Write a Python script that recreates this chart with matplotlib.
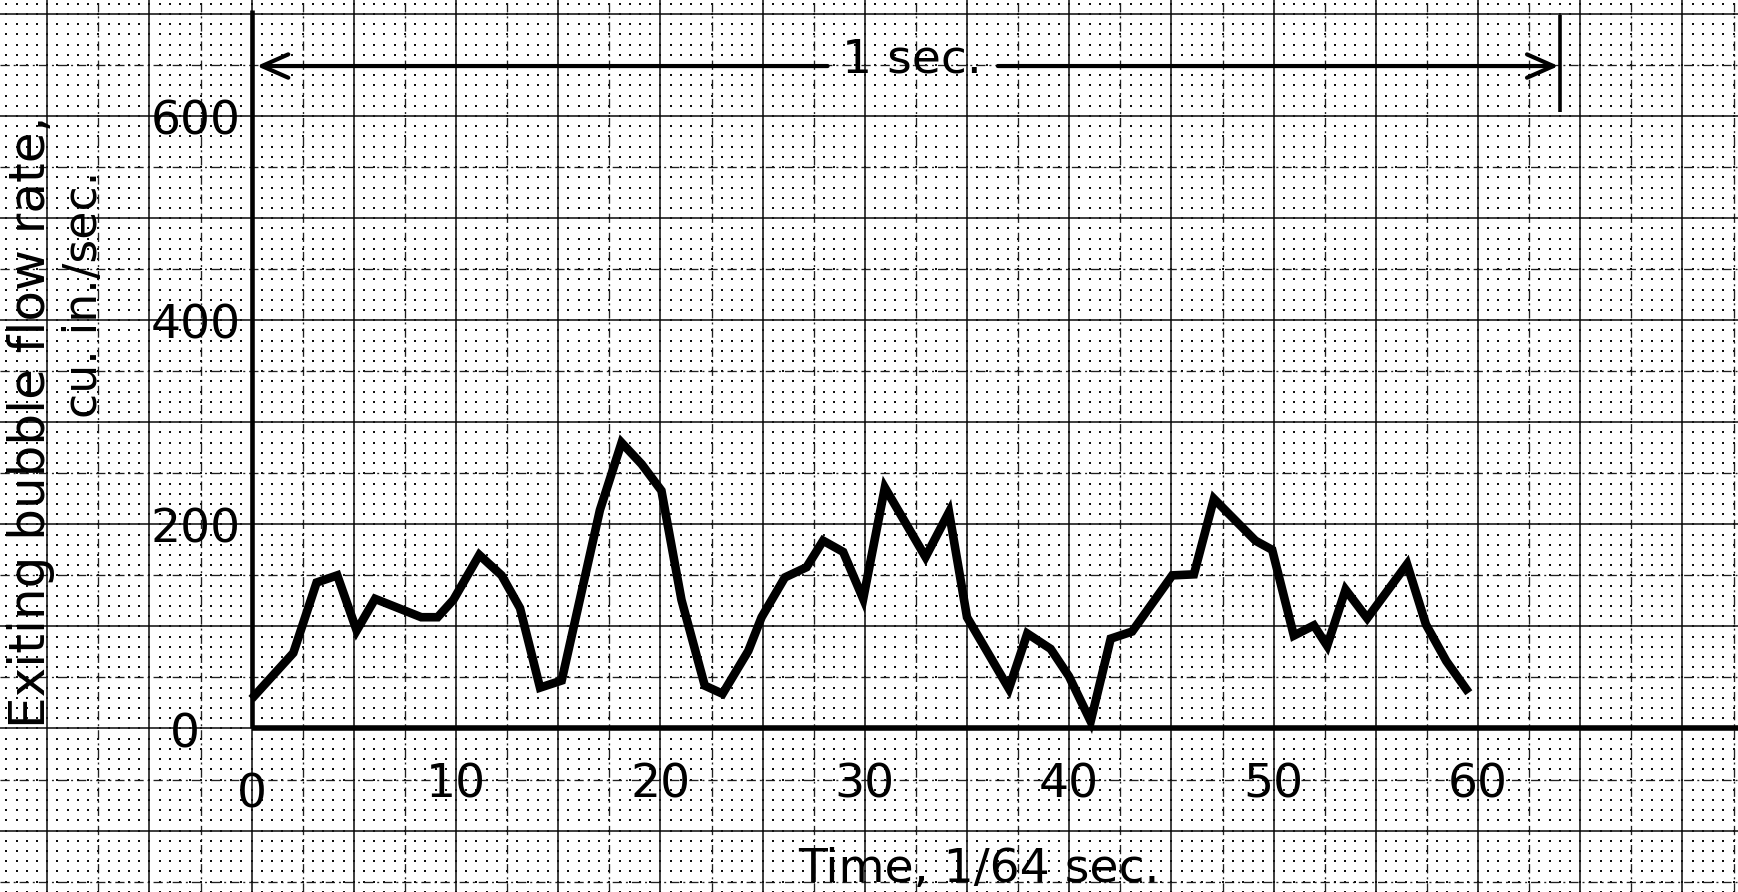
import numpy as np
import matplotlib
matplotlib.use("Agg")
import matplotlib.pyplot as plt

# ---------------- data ----------------
time_64ths = [0, 2.04, 3.18, 4.19, 5.14, 6.04, 8.3, 9.1, 9.87, 11.14, 12.23, 13.13,
              14.11, 15.17, 17.04, 18.1, 19.08, 20.05, 21.03, 22.17, 23.04, 24.3,
              24.95, 26.09, 27.15, 27.96, 28.94, 29.92, 30.98, 32.97, 34.12, 35.0,
              37.05, 37.95, 39.09, 39.99, 41.05, 42.03, 43.08, 45.04, 46.1, 47.08,
              49.11, 49.93, 50.99, 51.97, 52.62, 53.52, 54.58, 56.53, 57.45, 58.45,
              59.55]
flow_rate = [29, 74, 143, 150, 96, 127, 109, 109, 126, 170, 150, 118,
             40, 47, 214, 280, 259, 233, 126, 42, 34, 76,
             109, 148, 158, 184, 173, 127, 236, 168, 212, 109,
             39, 93, 78, 51, 7, 88, 95, 150, 151, 225,
             184, 175, 91, 101, 81, 136, 108, 161, 102, 66,
             35]

x_ticks = [0, 10, 20, 30, 40, 50, 60]
y_ticks = [200, 400, 600]
y_zero_label = "0"
x_label = "Time, 1/64 sec."
y_label_1 = "Exiting bubble flow rate,"
y_label_2 = "cu. in./sec."
span_label = "1 sec."
span_end = 64

# ---------------- figure: whole sheet of graph paper ----------------
W, H, DPI = 1738, 892, 100
fig = plt.figure(figsize=(W / DPI, H / DPI), dpi=DPI, facecolor="white")
ax = fig.add_axes([0, 0, 1, 1])
ax.set_xlim(-12.31, 72.72)
ax.set_ylim(-160.2, 713.7)
ax.axis("off")

# paper grid
for gx in np.arange(-12.5, 75, 2.5):
    if abs(gx / 5 - round(gx / 5)) < 1e-6:
        ax.axvline(gx, color="#111111", lw=1.15, zorder=1)
    else:
        ax.axvline(gx, color="#222222", lw=0.95, ls=(0, (7, 3, 1.5, 3)), zorder=1)
for gy in np.arange(-150, 750, 50):
    if gy % 100 == 0:
        ax.axhline(gy, color="#111111", lw=1.15, zorder=1)
    else:
        ax.axhline(gy, color="#222222", lw=0.95, ls=(0, (7, 3, 1.5, 3)), zorder=1)
dx, dy = np.meshgrid(np.arange(-12.5, 73, 0.5), np.arange(-160, 720, 10))
ax.scatter(dx.ravel(), dy.ravel(), s=3.0, marker="s", color="#111111",
           linewidths=0, zorder=1)

# axes lines
ax.plot([0, 0], [0, 704], color="black", lw=3.3, solid_capstyle="butt", zorder=3)
ax.plot([0, 80], [0, 0], color="black", lw=4.0, solid_capstyle="butt", zorder=3)

# data curve
ax.plot(time_64ths, flow_rate, color="black", lw=6.2,
        solid_joinstyle="miter", solid_capstyle="butt", zorder=4)

# tick labels
FS = 34
for v in y_ticks:
    ax.text(-0.55, v - 18, str(v), ha="right", va="baseline", fontsize=FS, zorder=5)
ax.text(-3.27, -19, y_zero_label, ha="center", va="baseline", fontsize=FS, zorder=5)
for v in x_ticks:
    ax.text(v, -77 if v == 0 else -68, str(v), ha="center", va="baseline",
            fontsize=FS, zorder=5)

# axis titles
ax.text(35.6, -150, x_label, ha="center", va="baseline", fontsize=FS, zorder=5)
ax.text(-10.11, 0.5, y_label_1, rotation=90, rotation_mode="anchor",
        ha="left", va="baseline", fontsize=36, zorder=5)
ax.text(-7.55, 304, y_label_2, rotation=90, rotation_mode="anchor",
        ha="left", va="baseline", fontsize=33, zorder=5)

# "1 sec." span arrow
arrow_y = 649
akw = dict(arrowstyle="->,head_length=0.95,head_width=0.42", color="black",
           lw=3.0, mutation_scale=20, shrinkA=0, shrinkB=0)
ax.annotate("", xy=(0.25, arrow_y), xytext=(28.18, arrow_y), arrowprops=akw, zorder=5)
ax.annotate("", xy=(span_end - 0.06, arrow_y), xytext=(36.51, arrow_y),
            arrowprops=akw, zorder=5)
ax.plot([span_end, span_end], [604, 699], color="black", lw=2.6,
        solid_capstyle="butt", zorder=5)
ax.text(32.3, 642.7, span_label, ha="center", va="baseline", fontsize=FS, zorder=5)

fig.savefig("out.png", dpi=DPI, facecolor="white")
